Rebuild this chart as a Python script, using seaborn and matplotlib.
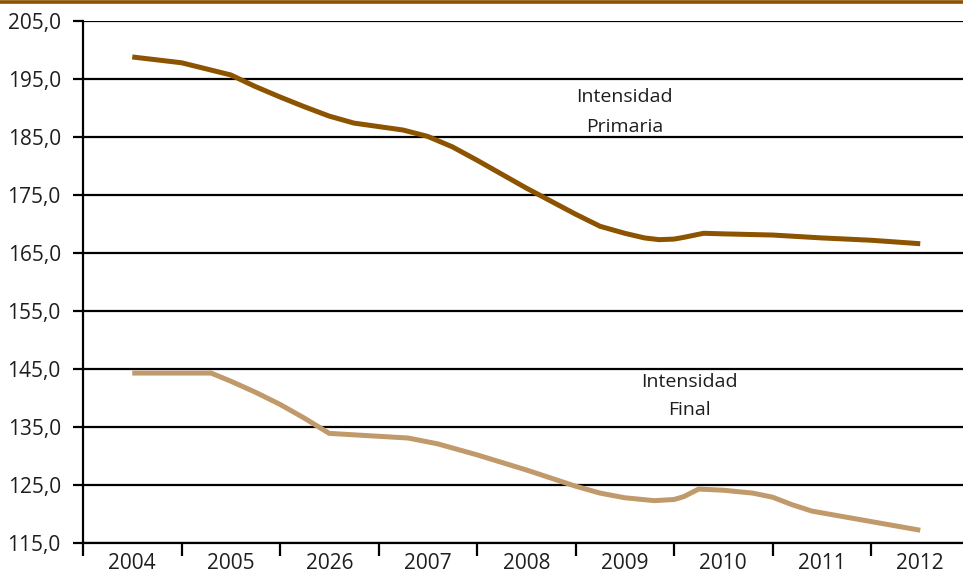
import matplotlib
matplotlib.use("Agg")
import matplotlib.pyplot as plt
import seaborn as sns
import pandas as pd
from matplotlib.lines import Line2D
from matplotlib.ticker import FuncFormatter, FixedLocator

# Category labels (as printed on the chart)
years = ["2004", "2005", "2026", "2007", "2008", "2009", "2010", "2011", "2012"]

# Positions along the category axis (0 = first category) and values
prim_pos = [0, 0.5, 1, 1.25, 1.5, 1.75, 2, 2.25, 2.5, 2.75, 3, 3.25, 3.5, 4, 4.5, 4.75, 5,
            5.2, 5.35, 5.5, 5.6, 5.8, 6, 6.5, 7, 7.5, 8]
prim_val = [198.8, 197.8, 195.7, 193.7, 191.9, 190.2, 188.6, 187.4, 186.8, 186.2, 185.1, 183.3,
            181.0, 176.2, 171.7, 169.6, 168.4, 167.6, 167.3, 167.4, 167.7, 168.4, 168.3,
            168.1, 167.6, 167.2, 166.6]

final_pos = [0, 0.8, 1, 1.25, 1.5, 1.75, 2, 2.5, 2.8, 3.1, 3.5, 4, 4.25, 4.5, 4.75, 5, 5.3,
             5.5, 5.6, 5.75, 6, 6.3, 6.5, 6.7, 6.9, 7, 8]
final_val = [144.3, 144.3, 142.9, 141.0, 138.9, 136.5, 133.9, 133.4, 133.1, 132.1, 130.2,
             127.6, 126.2, 124.8, 123.6, 122.8, 122.3, 122.5, 123.0, 124.3, 124.1, 123.6,
             122.9, 121.6, 120.5, 120.2, 117.2]

labels = [("Intensidad", "Primaria"), ("Intensidad", "Final")]

c_prim = "#8C5300"
c_final = "#C09A6A"
txt_c = "#1e1e1e"

sns.set_style("white")
plt.rcParams["font.family"] = ["Open Sans", "DejaVu Sans"]

fig = plt.figure(figsize=(9.63, 5.80), dpi=100)
ax = fig.add_axes([83 / 963, 1 - 543 / 580, (969.5 - 83) / 963, (543 - 21) / 580])

df_p = pd.DataFrame({"x": prim_pos, "y": prim_val})
df_f = pd.DataFrame({"x": final_pos, "y": final_val})
sns.lineplot(data=df_p, x="x", y="y", ax=ax, color=c_prim, linewidth=3.6,
             solid_capstyle="butt", solid_joinstyle="round", sort=False)
sns.lineplot(data=df_f, x="x", y="y", ax=ax, color=c_final, linewidth=3.6,
             solid_capstyle="butt", solid_joinstyle="round", sort=False)

ax.set_xlim(-0.5, 8.5)
ax.set_ylim(115, 205)
ax.set_yticks(list(range(115, 206, 10)))
ax.yaxis.set_major_formatter(FuncFormatter(lambda v, p: f"{v:.1f}".replace(".", ",")))
ax.set_xticks(range(len(years)))
ax.set_xticklabels(years)
ax.xaxis.set_minor_locator(FixedLocator([i - 0.5 for i in range(len(years))]))
ax.set_xlabel("")
ax.set_ylabel("")

ax.grid(axis="y", color="black", linewidth=1.6)
ax.grid(axis="x", visible=False)
ax.set_axisbelow(True)

for s in ["top", "right"]:
    ax.spines[s].set_visible(False)
for s in ["left", "bottom"]:
    ax.spines[s].set_color("black")
    ax.spines[s].set_linewidth(1.6)

ax.tick_params(axis="y", which="major", direction="out", length=7, width=1.6,
               color="black", labelsize=15, labelcolor=txt_c, pad=9, left=True)
ax.tick_params(axis="x", which="major", length=0, labelsize=15, labelcolor=txt_c, pad=7)
ax.tick_params(axis="x", which="minor", direction="out", length=9, width=1.6,
               color="black", bottom=True)

ax.text(5.0, 191.9, labels[0][0], ha="center", va="center", fontsize=14, color=txt_c)
ax.text(5.0, 186.7, labels[0][1], ha="center", va="center", fontsize=14, color=txt_c)
ax.text(5.66, 142.8, labels[1][0], ha="center", va="center", fontsize=14, color=txt_c)
ax.text(5.66, 137.9, labels[1][1], ha="center", va="center", fontsize=14, color=txt_c)

# top decorative band
fig.add_artist(Line2D([0, 1], [1 - 1.5 / 580, 1 - 1.5 / 580], transform=fig.transFigure,
                      color=c_prim, linewidth=2.6))

fig.savefig("out.png", dpi=100)
